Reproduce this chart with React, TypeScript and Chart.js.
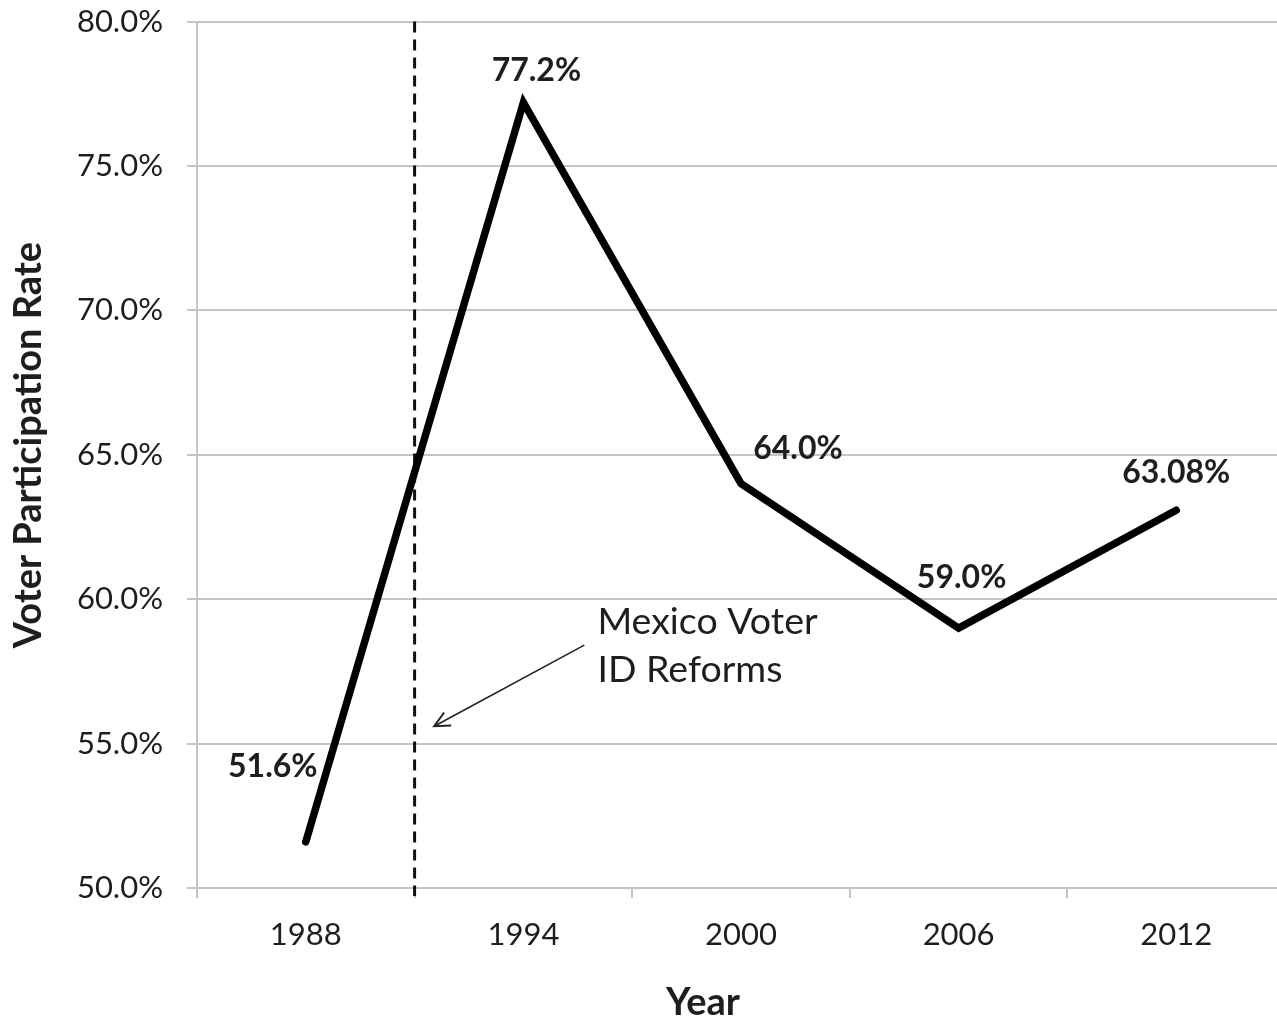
import React, { useEffect, useRef } from 'react';
import { Chart, registerables } from 'chart.js';

Chart.register(...registerables);

const years = ['1988', '1994', '2000', '2006', '2012'];
const participation = [51.6, 77.2, 64.0, 59.0, 63.08];
const pointLabels = ['51.6%', '77.2%', '64.0%', '59.0%', '63.08%'];
const yMin = 50;
const yMax = 80;
const yStep = 5;
const reformBoundary = 0.5; // between 1988 and 1994
const annotationLines = ['Mexico Voter', 'ID Reforms'];
const annotationText = { x: 1.34, y: [59.2, 57.55] };
const arrowFrom = { x: 1.28, y: 58.41 };
const arrowTo = { x: 0.59, y: 55.6 };
const labelOffsets = [
  [-33, -75],
  [13, -32],
  [57, -35],
  [3, -50],
  [0, -38],
];
const yTitle = 'Voter Participation Rate';
const xTitle = 'Year';

const FONT = 'Lato, "Open Sans", sans-serif';
const GRID = '#c4c4c4';
const TEXT = '#1e1e1e';
const SHIFT = 21; // canvas is shifted up by this many pixels

export default function App() {
  const ref = useRef<HTMLCanvasElement | null>(null);

  useEffect(() => {
    document.body.style.margin = '0';
    const canvas = ref.current;
    if (!canvas) return;

    const overlay = {
      id: 'overlay',
      beforeDatasetsDraw(chart: any) {
        const { ctx, chartArea } = chart;
        const xs = chart.scales.x;
        const x = xs.getPixelForValue(reformBoundary);
        ctx.save();
        ctx.strokeStyle = '#111';
        ctx.lineWidth = 3;
        ctx.setLineDash([11, 7]);
        ctx.beginPath();
        ctx.moveTo(x, chartArea.top);
        ctx.lineTo(x, chartArea.bottom + 8);
        ctx.stroke();
        ctx.restore();
      },
      afterDatasetsDraw(chart: any) {
        const { ctx } = chart;
        const xs = chart.scales.x;
        const ys = chart.scales.y;
        ctx.save();
        // data labels
        ctx.fillStyle = TEXT;
        ctx.font = `bold 32px ${FONT}`;
        ctx.textAlign = 'center';
        ctx.textBaseline = 'middle';
        participation.forEach((v, i) => {
          const px = xs.getPixelForValue(i);
          const py = ys.getPixelForValue(v);
          ctx.fillText(pointLabels[i], px + labelOffsets[i][0], py + labelOffsets[i][1]);
        });
        // annotation text
        ctx.font = `37.5px ${FONT}`;
        ctx.textAlign = 'left';
        annotationLines.forEach((t, i) => {
          ctx.fillText(t, xs.getPixelForValue(annotationText.x), ys.getPixelForValue(annotationText.y[i]));
        });
        // arrow
        const x1 = xs.getPixelForValue(arrowFrom.x);
        const y1 = ys.getPixelForValue(arrowFrom.y);
        const x2 = xs.getPixelForValue(arrowTo.x);
        const y2 = ys.getPixelForValue(arrowTo.y);
        ctx.strokeStyle = '#222';
        ctx.lineWidth = 1.6;
        ctx.beginPath();
        ctx.moveTo(x1, y1);
        ctx.lineTo(x2, y2);
        ctx.stroke();
        const ang = Math.atan2(y1 - y2, x1 - x2);
        const len = 17;
        ctx.lineWidth = 2;
        ctx.beginPath();
        ctx.moveTo(x2 + len * Math.cos(ang + 0.45), y2 + len * Math.sin(ang + 0.45));
        ctx.lineTo(x2, y2);
        ctx.lineTo(x2 + len * Math.cos(ang - 0.45), y2 + len * Math.sin(ang - 0.45));
        ctx.stroke();
        // axis titles
        ctx.font = `bold 38px ${FONT}`;
        ctx.textAlign = 'center';
        ctx.textBaseline = 'middle';
        ctx.fillText(xTitle, 703, 1003 + SHIFT);
        ctx.translate(29, 445 + SHIFT);
        ctx.rotate(-Math.PI / 2);
        ctx.fillText(yTitle, 0, 0);
        ctx.restore();
      },
    };

    const chart = new Chart(canvas, {
      type: 'line',
      data: {
        labels: years,
        datasets: [
          {
            data: participation,
            borderColor: '#000',
            borderWidth: 7.5,
            pointRadius: 0,
            tension: 0,
            borderCapStyle: 'round',
            borderJoinStyle: 'miter',
          },
        ],
      },
      options: {
        responsive: false,
        animation: false,
        devicePixelRatio: 1,
        layout: { padding: 0 },
        plugins: { legend: { display: false }, tooltip: { enabled: false } },
        scales: {
          x: {
            type: 'category',
            offset: true,
            afterFit(scale: any) {
              scale.height = 130;
            },
            grid: {
              offset: true,
              drawOnChartArea: false,
              drawTicks: true,
              tickLength: 10,
              color: GRID,
              lineWidth: 2,
            },
            border: { display: false },
            ticks: {
              color: TEXT,
              font: { family: FONT, size: 31 },
              padding: 18,
              maxRotation: 0,
            },
          },
          y: {
            min: yMin,
            max: yMax,
            afterFit(scale: any) {
              scale.width = 197;
            },
            grid: {
              color: GRID,
              lineWidth: 2,
              tickLength: 10,
            },
            border: { display: true, color: GRID, width: 2 },
            ticks: {
              stepSize: yStep,
              color: TEXT,
              font: { family: FONT, size: 31 },
              padding: 24,
              callback: (v: any) => Number(v).toFixed(1) + '%',
            },
          },
        },
      },
      plugins: [overlay],
    });
    return () => chart.destroy();
  }, []);

  return (
    <div style={{ position: 'fixed', left: 0, top: 0, width: 1277, height: 1018, overflow: 'hidden', background: '#fff' }}>
      <canvas ref={ref} width={1285} height={1018 + SHIFT} style={{ display: 'block', marginTop: -SHIFT }} />
    </div>
  );
}
